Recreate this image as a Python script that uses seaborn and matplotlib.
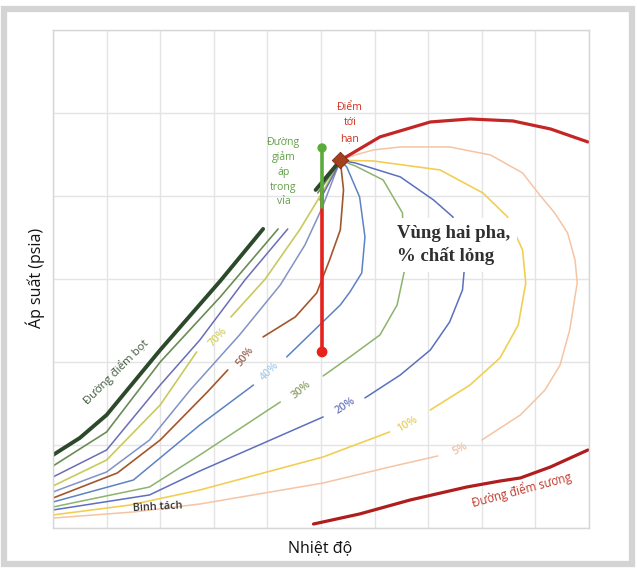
import matplotlib
matplotlib.use("Agg")
import numpy as np
import pandas as pd
import matplotlib.pyplot as plt
import seaborn as sns
from matplotlib.patches import Rectangle

# ---- data: temperature (degF) / pressure (psia) ----
crit_T, crit_P = 268, 4430

env_T = [268, 305, 352, 389, 429, 464, 499]
env_P = [4430, 4712, 4892, 4928, 4904, 4808, 4651]

dew_T = [243, 286, 333, 386, 417, 436, 464, 499]
dew_P = [48, 169, 337, 494, 566, 603, 735, 940]

# iso-volume lines (% liquid); None marks a break in the line
q100_T = [0, 25, 50, 100, 156, 196, None, 245, 266, 268]
q100_P = [880, 1085, 1362, 2145, 2976, 3603, None, 4073, 4398, 4430]

q90_T = [0, 50, 100, 156, 210, None, 247, 266, 268]
q90_P = [747, 1157, 2000, 2784, 3603, None, 4037, 4386, 4430]

q80_T = [0, 50, 100, 137, 179, 219, None, 249, 266, 268]
q80_P = [615, 940, 1723, 2265, 2988, 3603, None, 3952, 4362, 4430]

q70_T = [0, 50, 100, 134, None, 166, 198, 230, 247, 266, 268]
q70_P = [506, 819, 1482, 2121, None, 2543, 3000, 3591, 3952, 4374, 4430]

q60_T = [0, 50, 90, 128, 174, 212, 235, 251, 266, 268]
q60_P = [434, 675, 1060, 1663, 2326, 2928, 3410, 3856, 4362, 4430]

q50_T = [0, 60, 100, 144, 163, None, 196, 226, 246, 258, 268, 271, 268]
q50_P = [361, 663, 1060, 1639, 1904, None, 2302, 2543, 2832, 3229, 3591, 4073, 4430]

q40_T = [0, 75, 137, 187, None, 218, 268, 277, 288, 291, 286, 274, 268]
q40_P = [313, 578, 1241, 1723, None, 2061, 2687, 2844, 3073, 3507, 3989, 4350, 4430]

q30_T = [0, 90, 137, 212, None, 252, 277, 305, 321, 328, 326, 308, 282, 268]
q30_P = [253, 494, 880, 1518, None, 1832, 2061, 2326, 2687, 3109, 3796, 4193, 4362, 4430]

q20_T = [0, 90, 137, 252, None, 291, 324, 352, 370, 382, 384, 373, 355, 324, 282, 268]
q20_P = [217, 398, 687, 1338, None, 1567, 1844, 2145, 2482, 2868, 3169, 3748, 3952, 4230, 4398, 4430]

q10_T = [0, 72, 137, 252, 314, None, 352, 389, 417, 434, 441, 438, 424, 401, 361, 299, 268]
q10_P = [157, 277, 458, 856, 1157, None, 1422, 1723, 2049, 2446, 2952, 3350, 3748, 4037, 4314, 4422, 4430]

q5_T = [0, 75, 137, 252, 314, 359, None, 400, 436, 459, 473, 482, 489, 487, 480, 468, 454, 438, 408,
        370, 324, 299, 282, 268]
q5_P = [120, 193, 289, 542, 735, 868, None, 1060, 1362, 1663, 1964, 2386, 2952, 3229, 3555, 3796, 4013, 4278,
        4495, 4591, 4591, 4555, 4495, 4430]

# reservoir depletion path (constant temperature)
path_T = 251
path_top_P, path_gas_P, path_end_P = 4579, 3868, 2121

quality_labels = ["70%", "50%", "40%", "30%", "20%", "10%", "5%"]

# ---- styling ----
sns.set_theme(style="whitegrid")
plt.rcParams["font.family"] = ["Open Sans", "DejaVu Sans"]

fig = plt.figure(figsize=(6.37, 5.69), dpi=100)
ax = fig.add_axes([53 / 637, 1 - 528 / 569, 536 / 637, 498 / 569])

curves = [
    (q5_T, q5_P, "#f5c4a2", 1.1),
    (q10_T, q10_P, "#f1cf55", 1.2),
    (q20_T, q20_P, "#5b6fbf", 1.1),
    (q30_T, q30_P, "#8db36c", 1.1),
    (q40_T, q40_P, "#5d82c3", 1.1),
    (q50_T, q50_P, "#a3562c", 1.2),
    (q60_T, q60_P, "#8192c4", 1.1),
    (q70_T, q70_P, "#c9c95c", 1.2),
    (q80_T, q80_P, "#6a6db5", 1.1),
    (q90_T, q90_P, "#6b8c55", 1.2),
    (q100_T, q100_P, "#2c4a2b", 2.8),
    (env_T, env_P, "#c42626", 2.3),
    (dew_T, dew_P, "#b01d1d", 2.3),
]


def to_frame(ts, ps):
    rows, seg = [], 0
    for t, p in zip(ts, ps):
        if t is None:
            seg += 1
            continue
        rows.append((t, p, seg))
    return pd.DataFrame(rows, columns=["T", "P", "seg"])


for ts, ps, color, lw in curves:
    df = to_frame(ts, ps)
    sns.lineplot(data=df, x="T", y="P", units="seg", estimator=None, sort=False,
                 color=color, lw=lw, ax=ax, legend=False, solid_capstyle="round",
                 solid_joinstyle="round")

# depletion path: red liquid-dropout part, green single-phase part
ax.plot([path_T, path_T], [path_end_P, 4073], color="#e5221b", lw=2.6, zorder=5)
ax.plot([path_T, path_T], [path_gas_P, path_top_P], color="#5aab3a", lw=2.6, zorder=6)
sns.scatterplot(x=[path_T], y=[path_end_P], color="#e5221b", s=60, ax=ax, zorder=7,
                edgecolor="none", legend=False)
sns.scatterplot(x=[path_T], y=[path_top_P], color="#5aab3a", s=45, ax=ax, zorder=7,
                edgecolor="none", legend=False)
sns.scatterplot(x=[crit_T], y=[crit_P], marker="D", color="#a63f1e", s=70, ax=ax, zorder=8,
                edgecolor="#7a2a12", linewidth=0.6, legend=False)

ax.set_xlim(0, 500)
ax.set_ylim(0, 6000)
ax.set_xticks(np.arange(0, 501, 50))
ax.set_yticks(np.arange(0, 6001, 1000))
ax.set_xticklabels([])
ax.set_yticklabels([])
ax.tick_params(length=0)
ax.grid(color="#e4e4e4", lw=1)
for s in ax.spines.values():
    s.set_color("#d6d6d6")
    s.set_linewidth(1)
ax.set_xlabel("")
ax.set_ylabel("")

# ---- annotations ----
label_style = [
    ("70%", 154, 2302, 47, "#d3d068"),
    ("50%", 179, 2061, 52, "#9b6650"),
    ("40%", 202, 1892, 45, "#a9cdec"),
    ("30%", 232, 1663, 40, "#8ea06c"),
    ("20%", 273, 1470, 33, "#6a79c0"),
    ("10%", 331, 1253, 30, "#e9cf62"),
    ("5%", 380, 952, 28, "#f2bfa0"),
]
for txt, t, p, rot, c in label_style:
    ax.text(t, p, txt, rotation=rot, color=c, fontsize=7.8, fontweight="semibold",
            ha="center", va="center", rotation_mode="anchor", zorder=9)

ax.text(59, 1880, "Đường điểm bọt", rotation=45, color="#3f5a3d", fontsize=8.2,
        ha="center", va="center", rotation_mode="anchor", zorder=9)
ax.text(98, 253, "Bình tách", color="#333333", fontsize=7.8, fontweight="semibold",
        ha="center", va="center", rotation=3, zorder=9)
ax.text(437, 458, "Đường điểm sương", rotation=15, color="#c0392b", fontsize=8.3,
        ha="center", va="center", rotation_mode="anchor", zorder=9)
ax.text(277, 4880, "Điểm\ntới\nhạn", color="#d0301f", fontsize=7.6, ha="center",
        va="center", linespacing=1.55, zorder=9)
ax.text(215, 4290, "Đường\ngiảm\náp\ntrong\nvỉa", color="#62a048", fontsize=7.6,
        ha="center", va="center", linespacing=1.45, zorder=9)
ax.text(321, 3410, "Vùng hai pha,\n% chất lỏng", color="#2f2f2f", fontsize=13.5,
        fontfamily=["Liberation Serif", "DejaVu Serif"], fontweight="bold",
        ha="left", va="center", linespacing=1.4, zorder=9,
        bbox=dict(facecolor="white", edgecolor="none", pad=5))

fig.text(320 / 637, 1 - 548 / 569, "Nhiệt độ", fontsize=11.5, ha="center", va="center",
         color="#111111")
fig.text(35 / 637, 1 - 278 / 569, "Áp suất (psia)", fontsize=11.5, ha="center",
         va="center", rotation=90, color="#111111")

# outer frame
fig.patches.append(Rectangle((4 / 637, 5 / 569), 628 / 637, 555 / 569,
                             transform=fig.transFigure, fill=False,
                             edgecolor="#d4d4d4", lw=4.5, zorder=0))

fig.savefig("out.png", dpi=100)
